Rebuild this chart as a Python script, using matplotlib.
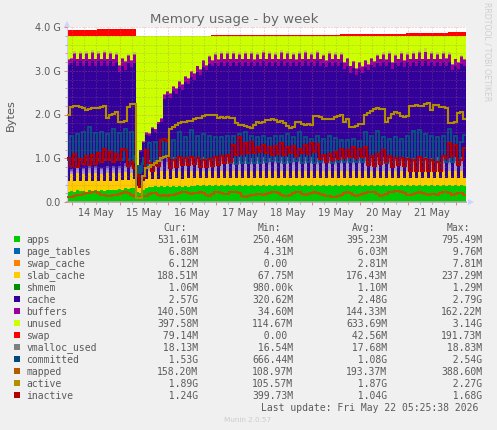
import matplotlib
matplotlib.use("Agg")
import matplotlib.pyplot as plt
from matplotlib.ticker import MultipleLocator
import numpy as np

W, H = 497, 431
BG = "#f0f0f0"
TXT = "#5a5a5a"

# all in GiB, one sample every 1.5 hours
day_labels = ["14 May", "15 May", "16 May", "17 May", "18 May", "19 May", "20 May", "21 May"]
ram_total = 3.79

apps_top = [
    0.24, 0.26, 0.24, 0.27, 0.25, 0.26, 0.24, 0.27, 0.25, 0.27,
    0.26, 0.28, 0.26, 0.28, 0.27, 0.28, 0.27, 0.29, 0.28, 0.31,
    0.30, 0.33, 0.32, 0.22, 0.20, 0.28, 0.33, 0.35, 0.34, 0.36,
    0.34, 0.36, 0.35, 0.37, 0.35, 0.37, 0.35, 0.37, 0.35, 0.37,
    0.35, 0.37, 0.36, 0.38, 0.36, 0.38, 0.36, 0.38, 0.36, 0.38,
    0.36, 0.38, 0.36, 0.38, 0.36, 0.38, 0.36, 0.38, 0.36, 0.38,
    0.36, 0.38, 0.36, 0.38, 0.36, 0.38, 0.36, 0.38, 0.36, 0.38,
    0.36, 0.38, 0.36, 0.38, 0.36, 0.38, 0.36, 0.38, 0.36, 0.38,
    0.36, 0.38, 0.36, 0.38, 0.36, 0.38, 0.36, 0.38, 0.36, 0.38,
    0.36, 0.38, 0.36, 0.38, 0.36, 0.38, 0.36, 0.38, 0.36, 0.38,
    0.36, 0.38, 0.36, 0.38, 0.36, 0.38, 0.36, 0.38, 0.36, 0.38,
    0.36, 0.38, 0.36, 0.39, 0.37, 0.39, 0.37, 0.39, 0.36, 0.38,
    0.36, 0.38, 0.36, 0.38, 0.36, 0.38, 0.36, 0.38, 0.36, 0.38,
    0.36, 0.38, 0.37,
]
slab_top = [
    0.47, 0.64, 0.48, 0.66, 0.47, 0.65, 0.48, 0.66, 0.47, 0.66,
    0.48, 0.65, 0.47, 0.66, 0.48, 0.66, 0.49, 0.66, 0.50, 0.68,
    0.50, 0.67, 0.52, 0.36, 0.34, 0.48, 0.52, 0.70, 0.52, 0.70,
    0.53, 0.72, 0.53, 0.71, 0.53, 0.72, 0.54, 0.72, 0.53, 0.71,
    0.54, 0.72, 0.54, 0.71, 0.54, 0.72, 0.54, 0.71, 0.54, 0.72,
    0.54, 0.72, 0.54, 0.72, 0.54, 0.71, 0.55, 0.72, 0.54, 0.72,
    0.54, 0.71, 0.54, 0.72, 0.55, 0.72, 0.54, 0.71, 0.54, 0.72,
    0.55, 0.72, 0.54, 0.72, 0.54, 0.71, 0.54, 0.72, 0.55, 0.72,
    0.54, 0.72, 0.54, 0.71, 0.55, 0.72, 0.54, 0.72, 0.54, 0.71,
    0.54, 0.72, 0.55, 0.72, 0.54, 0.71, 0.54, 0.72, 0.54, 0.72,
    0.54, 0.71, 0.55, 0.72, 0.54, 0.72, 0.54, 0.71, 0.54, 0.72,
    0.55, 0.72, 0.54, 0.72, 0.54, 0.71, 0.54, 0.72, 0.54, 0.72,
    0.54, 0.71, 0.54, 0.72, 0.54, 0.72, 0.54, 0.71, 0.54, 0.72,
    0.54, 0.72, 0.55,
]
cache_top = [
    3.14, 3.18, 3.22, 3.12, 3.22, 3.12, 3.22, 3.12, 3.22, 3.12,
    3.22, 3.12, 3.22, 3.12, 3.22, 3.12, 3.20, 2.98, 3.10, 3.02,
    3.18, 3.08, 3.18, 0.68, 1.15, 1.36, 1.54, 1.50, 1.66, 1.60,
    1.78, 1.84, 2.36, 2.44, 2.38, 2.54, 2.46, 2.62, 2.56, 2.74,
    2.70, 2.86, 2.80, 2.98, 2.90, 3.08, 3.02, 3.16, 3.10, 3.18,
    3.12, 3.20, 3.12, 3.20, 3.12, 3.20, 3.12, 3.20, 3.12, 3.20,
    3.12, 3.20, 3.12, 3.20, 3.12, 3.22, 3.12, 3.20, 3.12, 3.20,
    3.12, 3.22, 3.12, 3.20, 3.12, 3.20, 3.10, 3.20, 3.12, 3.22,
    3.12, 3.20, 3.12, 3.22, 3.12, 3.18, 3.08, 3.20, 3.12, 3.20,
    3.12, 3.20, 3.04, 3.12, 2.96, 3.06, 2.90, 3.04, 2.96, 3.08,
    3.02, 3.14, 3.08, 3.18, 3.12, 3.20, 3.10, 3.20, 3.04, 3.18,
    3.12, 3.20, 3.08, 3.20, 3.12, 3.20, 3.12, 3.22, 3.12, 3.22,
    3.12, 3.20, 3.12, 3.20, 3.12, 3.20, 3.12, 3.20, 3.02, 3.12,
    3.04, 3.16, 3.10,
]
buffers_top = [
    3.27, 3.30, 3.40, 3.28, 3.40, 3.28, 3.40, 3.28, 3.42, 3.28,
    3.40, 3.28, 3.42, 3.28, 3.40, 3.28, 3.38, 3.14, 3.30, 3.22,
    3.36, 3.24, 3.38, 0.75, 1.20, 1.40, 1.60, 1.58, 1.72, 1.68,
    1.84, 1.92, 2.46, 2.54, 2.50, 2.66, 2.60, 2.76, 2.70, 2.88,
    2.84, 3.00, 2.94, 3.12, 3.04, 3.24, 3.14, 3.34, 3.24, 3.38,
    3.26, 3.40, 3.28, 3.40, 3.28, 3.40, 3.28, 3.38, 3.28, 3.40,
    3.28, 3.40, 3.26, 3.38, 3.28, 3.42, 3.28, 3.40, 3.28, 3.38,
    3.28, 3.42, 3.28, 3.40, 3.28, 3.38, 3.26, 3.40, 3.28, 3.42,
    3.28, 3.38, 3.28, 3.42, 3.28, 3.36, 3.24, 3.40, 3.28, 3.38,
    3.28, 3.38, 3.20, 3.30, 3.12, 3.22, 3.06, 3.20, 3.10, 3.24,
    3.16, 3.30, 3.22, 3.36, 3.28, 3.38, 3.26, 3.40, 3.20, 3.36,
    3.28, 3.40, 3.24, 3.38, 3.28, 3.40, 3.28, 3.42, 3.28, 3.44,
    3.28, 3.40, 3.28, 3.38, 3.28, 3.40, 3.30, 3.38, 3.16, 3.28,
    3.20, 3.34, 3.26,
]
swap = [
    0.14, 0.14, 0.14, 0.14, 0.14, 0.14, 0.14, 0.14, 0.14, 0.14,
    0.16, 0.16, 0.16, 0.16, 0.16, 0.16, 0.16, 0.16, 0.16, 0.16,
    0.16, 0.16, 0.16, 0.00, 0.00, 0.00, 0.00, 0.00, 0.00, 0.00,
    0.00, 0.00, 0.00, 0.00, 0.00, 0.00, 0.00, 0.00, 0.00, 0.00,
    0.00, 0.00, 0.00, 0.00, 0.00, 0.00, 0.00, 0.00, 0.03, 0.03,
    0.03, 0.03, 0.03, 0.03, 0.03, 0.03, 0.03, 0.03, 0.03, 0.03,
    0.03, 0.03, 0.03, 0.03, 0.03, 0.03, 0.03, 0.03, 0.03, 0.03,
    0.03, 0.03, 0.03, 0.03, 0.03, 0.03, 0.03, 0.03, 0.03, 0.03,
    0.03, 0.03, 0.03, 0.03, 0.03, 0.03, 0.03, 0.03, 0.03, 0.03,
    0.03, 0.05, 0.05, 0.05, 0.05, 0.05, 0.05, 0.05, 0.05, 0.05,
    0.05, 0.05, 0.05, 0.05, 0.05, 0.05, 0.05, 0.05, 0.05, 0.05,
    0.05, 0.05, 0.05, 0.07, 0.07, 0.07, 0.07, 0.07, 0.07, 0.07,
    0.07, 0.07, 0.07, 0.07, 0.07, 0.07, 0.07, 0.09, 0.09, 0.09,
    0.09, 0.09, 0.09,
]
committed = [
    0.95, 1.52, 0.95, 1.55, 0.95, 1.60, 0.95, 1.72, 0.95, 1.58,
    0.96, 1.60, 0.96, 1.55, 0.96, 1.66, 0.96, 1.58, 0.96, 1.66,
    0.96, 1.60, 0.94, 0.70, 0.70, 0.90, 0.85, 1.36, 0.85, 1.38,
    0.85, 1.40, 1.05, 1.42, 1.00, 1.42, 1.00, 1.60, 1.00, 1.48,
    1.00, 1.65, 1.00, 1.50, 0.98, 1.55, 0.98, 1.52, 0.96, 1.48,
    0.92, 1.48, 0.90, 1.52, 0.90, 1.50, 0.88, 1.55, 0.90, 1.60,
    0.90, 1.52, 0.90, 1.48, 0.90, 1.52, 0.92, 1.46, 0.94, 1.50,
    0.92, 1.50, 0.90, 1.55, 0.92, 1.48, 0.94, 1.60, 0.90, 1.48,
    0.92, 1.45, 0.90, 1.50, 0.92, 1.45, 0.92, 1.50, 0.90, 1.46,
    0.92, 1.42, 0.92, 1.42, 0.92, 1.45, 0.92, 1.40, 0.92, 1.60,
    0.92, 1.50, 0.92, 1.62, 0.92, 1.48, 0.90, 1.45, 0.92, 1.48,
    0.92, 1.45, 0.92, 1.50, 0.90, 1.62, 0.92, 1.65, 0.92, 1.55,
    0.90, 1.50, 0.92, 1.48, 0.90, 1.50, 0.92, 1.66, 0.92, 1.50,
    0.92, 1.38, 1.53,
]
mapped = [
    0.12, 0.12, 0.14, 0.16, 0.16, 0.18, 0.20, 0.21, 0.22, 0.22,
    0.20, 0.17, 0.15, 0.14, 0.13, 0.15, 0.17, 0.19, 0.21, 0.22,
    0.20, 0.17, 0.14, 0.10, 0.11, 0.14, 0.14, 0.18, 0.20, 0.20,
    0.17, 0.14, 0.15, 0.13, 0.15, 0.17, 0.19, 0.21, 0.22, 0.22,
    0.20, 0.18, 0.20, 0.21, 0.22, 0.20, 0.16, 0.14, 0.18, 0.22,
    0.22, 0.20, 0.18, 0.18, 0.22, 0.23, 0.22, 0.20, 0.14, 0.12,
    0.13, 0.15, 0.17, 0.19, 0.18, 0.16, 0.18, 0.20, 0.22, 0.22,
    0.20, 0.16, 0.13, 0.13, 0.16, 0.20, 0.22, 0.22, 0.18, 0.15,
    0.18, 0.20, 0.22, 0.20, 0.18, 0.16, 0.14, 0.14, 0.12, 0.12,
    0.13, 0.16, 0.20, 0.22, 0.20, 0.17, 0.14, 0.16, 0.19, 0.20,
    0.22, 0.22, 0.23, 0.18, 0.14, 0.16, 0.18, 0.22, 0.24, 0.26,
    0.25, 0.22, 0.20, 0.16, 0.15, 0.18, 0.20, 0.22, 0.20, 0.18,
    0.16, 0.18, 0.18, 0.16, 0.20, 0.22, 0.24, 0.20, 0.16, 0.18,
    0.20, 0.20, 0.16,
]
active = [
    2.00, 2.18, 2.20, 2.20, 2.18, 2.14, 2.10, 2.12, 2.16, 2.15,
    2.14, 2.18, 2.20, 1.92, 1.98, 2.02, 2.05, 1.84, 1.83, 1.85,
    2.17, 2.24, 2.25, 0.10, 0.10, 0.60, 0.78, 0.80, 0.84, 0.90,
    0.94, 1.00, 1.02, 1.05, 1.68, 1.72, 1.75, 1.80, 1.82, 1.82,
    1.86, 1.86, 1.90, 1.92, 1.93, 1.96, 1.98, 2.00, 2.00, 1.98,
    1.92, 1.94, 1.92, 1.94, 1.93, 1.92, 1.80, 1.76, 1.76, 1.74,
    1.72, 1.70, 1.76, 1.82, 1.80, 1.84, 1.88, 1.88, 1.90, 1.88,
    1.84, 1.86, 1.80, 1.74, 1.70, 1.72, 1.84, 1.82, 1.78, 1.76,
    1.78, 1.76, 1.96, 1.96, 1.94, 1.90, 1.90, 1.90, 1.90, 1.94,
    1.96, 1.98, 1.84, 1.90, 1.72, 1.72, 1.74, 1.78, 1.78, 2.00,
    2.04, 2.08, 2.12, 2.14, 2.12, 2.12, 1.84, 1.92, 2.02, 2.06,
    2.04, 1.96, 1.94, 1.96, 2.20, 2.20, 2.22, 2.20, 2.20, 2.24,
    2.26, 2.10, 2.22, 2.22, 2.18, 2.18, 2.16, 1.80, 1.80, 1.82,
    2.04, 2.05, 1.89,
]
inactive = [
    1.00, 0.82, 1.10, 0.80, 0.98, 0.88, 1.05, 0.85, 1.08, 0.88,
    1.12, 0.92, 1.22, 0.95, 1.15, 0.92, 1.10, 0.95, 1.22, 1.18,
    0.82, 0.92, 0.78, 0.62, 0.35, 0.55, 1.20, 0.90, 0.70, 0.85,
    0.82, 1.42, 1.44, 1.40, 0.78, 0.96, 0.80, 1.02, 0.84, 1.00,
    0.84, 1.02, 0.86, 1.00, 0.80, 0.95, 0.80, 0.98, 0.82, 1.04,
    0.84, 1.05, 0.90, 1.08, 0.92, 1.30, 1.08, 1.48, 1.10, 1.35,
    1.12, 1.38, 1.12, 1.25, 1.14, 1.30, 1.12, 1.25, 1.08, 1.28,
    1.10, 1.35, 1.08, 1.25, 1.12, 1.28, 1.05, 1.22, 1.12, 1.30,
    1.10, 1.35, 1.15, 1.32, 0.98, 1.08, 0.92, 1.10, 0.95, 1.15,
    0.98, 1.22, 1.00, 1.18, 1.02, 1.25, 1.00, 1.22, 1.02, 1.25,
    0.85, 1.05, 0.82, 1.10, 0.88, 1.20, 0.92, 1.05, 0.80, 1.00,
    0.85, 1.00, 0.82, 0.98, 0.72, 0.95, 0.70, 1.02, 0.72, 0.98,
    0.70, 0.95, 0.72, 0.92, 0.72, 1.05, 1.00, 1.35, 1.05, 1.30,
    0.85, 0.95, 1.24,
]

legend_names = ["apps", "page_tables", "swap_cache", "slab_cache", "shmem", "cache", "buffers",
                "unused", "swap", "vmalloc_used", "committed", "mapped", "active", "inactive"]
legend_colors = ["#00CC00", "#0066B3", "#FF8000", "#FFCC00", "#008F00", "#330099", "#990099",
                 "#CCFF00", "#FF0000", "#808080", "#00487D", "#B35A00", "#B38F00", "#B30000"]
cur_vals = ["531.61M", "  6.88M", "  6.12M", "188.51M", "  1.06M", "  2.57G", "140.50M",
            "397.58M", " 79.14M", " 18.13M", "  1.53G", "158.20M", "  1.89G", "  1.24G"]
min_vals = ["250.46M", "  4.31M", "  0.00 ", " 67.75M", "980.00k", "320.62M", " 34.60M",
            "114.67M", "  0.00 ", " 16.54M", "666.44M", "108.97M", "105.57M", "399.73M"]
avg_vals = ["395.23M", "  6.03M", "  2.81M", "176.43M", "  1.10M", "  2.48G", "144.33M",
            "633.69M", " 42.56M", " 17.68M", "  1.08G", "193.37M", "  1.87G", "  1.04G"]
max_vals = ["795.49M", "  9.76M", "  7.81M", "237.29M", "  1.29M", "  2.79G", "162.22M",
            "  3.14G", "191.73M", " 18.83M", "  2.54G", "388.60M", "  2.27G", "  1.68G"]


def ext(values):
    # repeat the last sample so the step plot reaches the right edge
    return np.append(values, values[-1])


fig = plt.figure(figsize=(W / 100, H / 100), dpi=100, facecolor=BG)
ax = fig.add_axes([67 / W, 1 - 203 / H, 399 / W, 175 / H], facecolor="white")

# days since 14 May 00:00, the midnight tick sits at pixel 72 and a day is 48 px
t = (67 + 3 * np.arange(len(apps_top) + 1) - 72) / 48
apps_arr, slab_arr = ext(apps_top), ext(slab_top)
cache_arr, buf_arr = ext(cache_top), ext(buffers_top)
comm_arr = ext(committed)
ram = np.full(len(t), ram_total)

ax.fill_between(t, 0, apps_arr, step="post", color="#00CC00", lw=0, zorder=2)
ax.fill_between(t, apps_arr, slab_arr, step="post", color="#FFCC00", lw=0, zorder=2)
ax.fill_between(t, slab_arr, cache_arr, step="post", color="#330099", lw=0, zorder=2)
ax.fill_between(t, cache_arr, buf_arr, step="post", color="#990099", lw=0, zorder=2)
ax.fill_between(t, buf_arr, ram, step="post", color="#CCFF00", lw=0, zorder=2)
ax.fill_between(t, ram, ram + ext(swap), step="post", color="#FF0000", lw=0, zorder=2)

# the slab peaks fade out upwards into the cache colour
glow = np.clip(slab_arr - 0.6, 0, None)
for frac, col, alpha in [(1.3, "#fff0a0", 0.75), (1.9, "#d8d0d0", 0.65), (2.6, "#9080c8", 0.6)]:
    ax.fill_between(t, slab_arr, np.minimum(slab_arr + glow * frac, cache_arr), step="post",
                    color=col, alpha=alpha, lw=0, zorder=2.1)

# same for the soft top edge of buffers
soft = np.clip(buf_arr - 3.3, 0, None)
ax.fill_between(t, buf_arr - 0.02, buf_arr + soft * 0.5, step="post", color="#c0b060", alpha=0.55, lw=0, zorder=2.2)

# the committed line is so busy near its troughs that it reads as a solid band
teal = "#0a5580"
ax.fill_between(t, comm_arr - 0.05, comm_arr + 0.14, where=comm_arr < 1.02, step="post",
                color=teal, lw=0, zorder=2.9)
ax.plot(t, comm_arr, color=teal, lw=1.3, drawstyle="steps-post", zorder=3, solid_joinstyle="miter")
ax.plot(t, ext(inactive), color="#B30000", lw=1.5, drawstyle="steps-post", zorder=3.2, solid_joinstyle="miter")
ax.plot(t, ext(mapped), color="#B35A00", lw=1.5, drawstyle="steps-post", zorder=3.3, solid_joinstyle="miter")
ax.plot(t, ext(active), color="#B38F00", lw=1.5, drawstyle="steps-post", zorder=3.4, solid_joinstyle="miter")

ax.set_xlim((67 - 72) / 48, (466 - 72) / 48)
ax.set_ylim(0, 4)

ax.xaxis.set_major_locator(MultipleLocator(1))
ax.xaxis.set_minor_locator(MultipleLocator(0.25))
ax.yaxis.set_major_locator(MultipleLocator(1))
ax.yaxis.set_minor_locator(MultipleLocator(0.2))
ax.set_axisbelow(False)
ax.grid(which="major", color="#e06060", alpha=0.55, lw=0.72, ls=(0, (1, 2)), zorder=5)
ax.grid(which="minor", color="#808080", alpha=0.45, lw=0.72, ls=(0, (1, 2)), zorder=5)
ax.tick_params(which="major", length=2, width=0.7, color="#e08080", labelbottom=False, labelleft=False)
ax.tick_params(which="minor", length=1.5, width=0.7, color="#b0b0b0")

for side in ["top", "right"]:
    ax.spines[side].set_visible(False)
ax.spines["left"].set_color("#d0d0e8")
ax.spines["bottom"].set_color("#a8a8a8")
ax.spines["bottom"].set_linewidth(1.2)

# axis arrows
ax.plot([(471 - 72) / 48], [0], marker=">", ms=4.5, color="#ccd4ff", clip_on=False, zorder=6, mew=0)
ax.plot([(67 - 72) / 48], [4.07], marker="^", ms=4.5, color="#ccd4ff", clip_on=False, zorder=6, mew=0)


def fig_text(px, py, s, **kw):
    kw.setdefault("color", TXT)
    kw.setdefault("va", "center")
    fig.text(px / W, 1 - py / H, s, **kw)


for g, lab in enumerate(["0.0", "1.0 G", "2.0 G", "3.0 G", "4.0 G"]):
    fig_text(61, 203 - g * 43.75, lab, ha="right", fontsize=7)
for d, lab in enumerate(day_labels):
    fig_text(96 + d * 48, 213, lab, ha="center", fontsize=7)

fig_text(234.5, 20, "Memory usage - by week", ha="center", fontsize=9.6, color="#666666")
fig_text(11, 115, "Bytes", ha="center", rotation=90, fontsize=8.2)
fig_text(487, 52, "RRDTOOL / TOBI OETIKER", ha="center", rotation=270, fontsize=5.6, color="#cfcfcf")

mono = dict(family="DejaVu Sans Mono", fontsize=7)
for px, head in [(163.3, "Cur:"), (257.7, "Min:"), (352.3, "Avg:"), (447, "Max:")]:
    fig_text(px, 228, head, **mono)

for i, name in enumerate(legend_names):
    y = 240 + i * 12
    fig.patches.append(plt.Rectangle((14 / W, 1 - (y + 3) / H), 6 / W, 6 / H, transform=fig.transFigure,
                                     facecolor=legend_colors[i], edgecolor="none"))
    fig_text(26.3, y, name, **mono)
    fig_text(157.3, y, cur_vals[i], **mono)
    fig_text(252.3, y, min_vals[i], **mono)
    fig_text(346.3, y, avg_vals[i], **mono)
    fig_text(441.3, y, max_vals[i], **mono)

fig_text(261, 408, "Last update: Fri May 22 05:25:38 2026", **mono)
fig_text(248, 420, "Munin 2.0.57", ha="center", fontsize=5.2, color="#cccccc")

fig.savefig("out.png", dpi=100, facecolor=BG)
